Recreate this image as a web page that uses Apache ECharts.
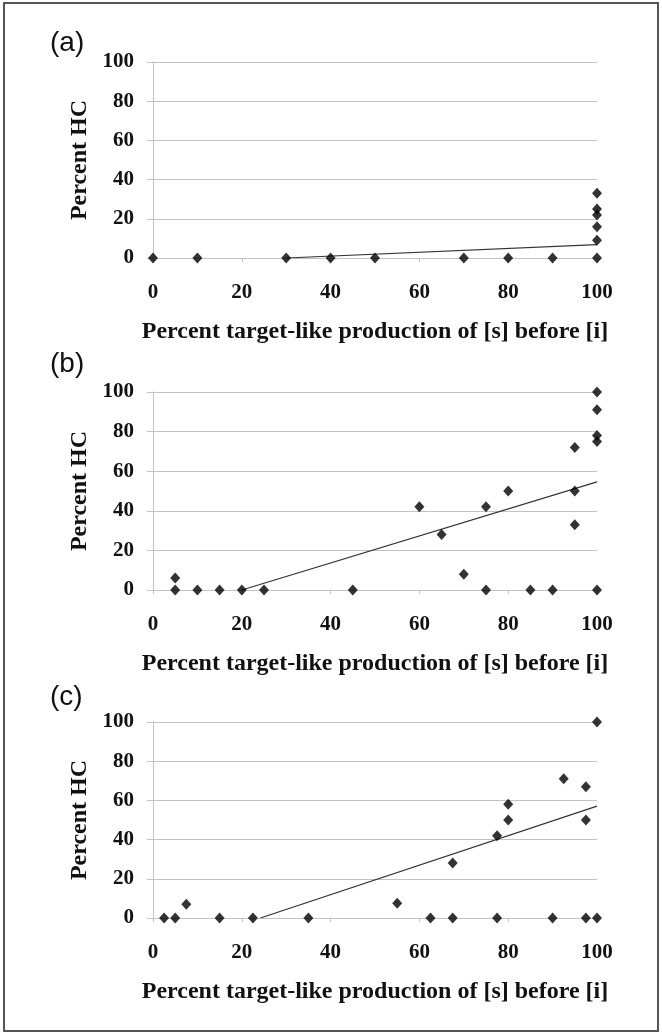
<!DOCTYPE html>
<html>
<head>
<meta charset="utf-8">
<title>Percent HC</title>
<script src="https://cdn.jsdelivr.net/npm/echarts@6/dist/echarts.min.js"></script>
<style>
  html, body { margin: 0; padding: 0; background: #fff; }
  #chart { width: 662px; height: 1034px; }
</style>
</head>
<body>
<div id="chart"></div>
<script>
(function () {
  'use strict';

  // tick values shared by every panel
  var xTicks = [0, 20, 40, 60, 80, 100];
  var yTicks = [0, 20, 40, 60, 80, 100];

  var panelLabels = ['(a)', '(b)', '(c)'];
  var xTitle = 'Percent target-like production of [s] before [i]';
  var yTitle = 'Percent HC';

  // (a)
  var pointsA = [[0, 0], [10, 0], [30, 0], [40, 0], [50, 0], [70, 0], [80, 0], [90, 0],
    [100, 0], [100, 9], [100, 16], [100, 22], [100, 25], [100, 33]];
  var trendA = [[30, 0], [100, 6.8]];

  // (b)
  var pointsB = [[5, 0], [5, 6], [10, 0], [15, 0], [20, 0], [25, 0], [45, 0], [60, 42],
    [65, 28], [70, 8], [75, 0], [75, 42], [80, 50], [85, 0], [90, 0], [95, 33], [95, 50],
    [95, 72], [100, 0], [100, 75], [100, 78], [100, 91], [100, 100]];
  var trendB = [[20, 0], [100, 54.6]];

  // (c)
  var pointsC = [[2.5, 0], [5, 0], [7.5, 7], [15, 0], [22.5, 0], [35, 0], [55, 7.5],
    [62.5, 0], [67.5, 0], [67.5, 28], [77.5, 0], [77.5, 42], [80, 50], [80, 58], [90, 0],
    [92.5, 71], [97.5, 0], [97.5, 50], [97.5, 67], [100, 0], [100, 100]];
  var trendC = [[24.2, 0], [100, 57.1]];

  var points = [pointsA, pointsB, pointsC];
  var trends = [trendA, trendB, trendC];

  var gridTops = [62, 392, 722];
  var gridHeights = [196, 198, 196];
  var labelY = [45, 366, 699];

  var serif = '"Liberation Serif", "Times New Roman", serif';
  var grey = '#c2c2c2';

  var grids = [], xAxes = [], yAxes = [], series = [], graphics = [];

  gridTops.forEach(function (top, i) {
    grids.push({ left: 153, right: 65, top: top, height: gridHeights[i] });

    xAxes.push({
      type: 'value', gridIndex: i,
      min: xTicks[0], max: xTicks[xTicks.length - 1], interval: xTicks[1] - xTicks[0],
      name: xTitle, nameLocation: 'middle', nameGap: 62,
      nameTextStyle: { fontFamily: serif, fontWeight: 'bold', fontSize: 24, color: '#111' },
      axisLine: { show: true, onZero: false, lineStyle: { color: grey, width: 1 } },
      axisTick: { show: true, length: 4, lineStyle: { color: grey } },
      splitLine: { show: false },
      axisLabel: { margin: 24, fontFamily: serif, fontWeight: 'bold', fontSize: 21, color: '#111' }
    });

    yAxes.push({
      type: 'value', gridIndex: i,
      min: yTicks[0], max: yTicks[yTicks.length - 1], interval: yTicks[1] - yTicks[0],
      name: yTitle, nameLocation: 'middle', nameGap: 60,
      nameTextStyle: { fontFamily: serif, fontWeight: 'bold', fontSize: 24, color: '#111' },
      axisLine: { show: true, lineStyle: { color: grey, width: 1 } },
      axisTick: { show: true, length: 6, lineStyle: { color: grey } },
      splitLine: { show: true, lineStyle: { color: grey, width: 1 } },
      axisLabel: { margin: 19, fontFamily: serif, fontWeight: 'bold', fontSize: 21, color: '#111' }
    });

    series.push({
      type: 'line', xAxisIndex: i, yAxisIndex: i,
      data: trends[i], showSymbol: false, silent: true,
      lineStyle: { color: '#333', width: 1.2 }, z: 2
    });
    series.push({
      type: 'scatter', xAxisIndex: i, yAxisIndex: i,
      data: points[i], symbol: 'diamond', symbolSize: [10, 11], clip: false,
      itemStyle: { color: '#000' }, z: 3
    });

    graphics.push({
      type: 'text', left: 50, top: labelY[i] - 16,
      style: { text: panelLabels[i], font: '28px "Liberation Sans", Arial, sans-serif', fill: '#111' }
    });
  });

  graphics.push({
    type: 'rect', shape: { x: 4, y: 3, width: 654, height: 1028 },
    style: { fill: 'none', stroke: '#555', lineWidth: 2 }, z: 10
  });

  var myChart = echarts.init(document.getElementById('chart'));
  myChart.setOption({
    animation: false,
    backgroundColor: '#fff',
    grid: grids,
    xAxis: xAxes,
    yAxis: yAxes,
    series: series,
    graphic: graphics
  });
})();
</script>
</body>
</html>
